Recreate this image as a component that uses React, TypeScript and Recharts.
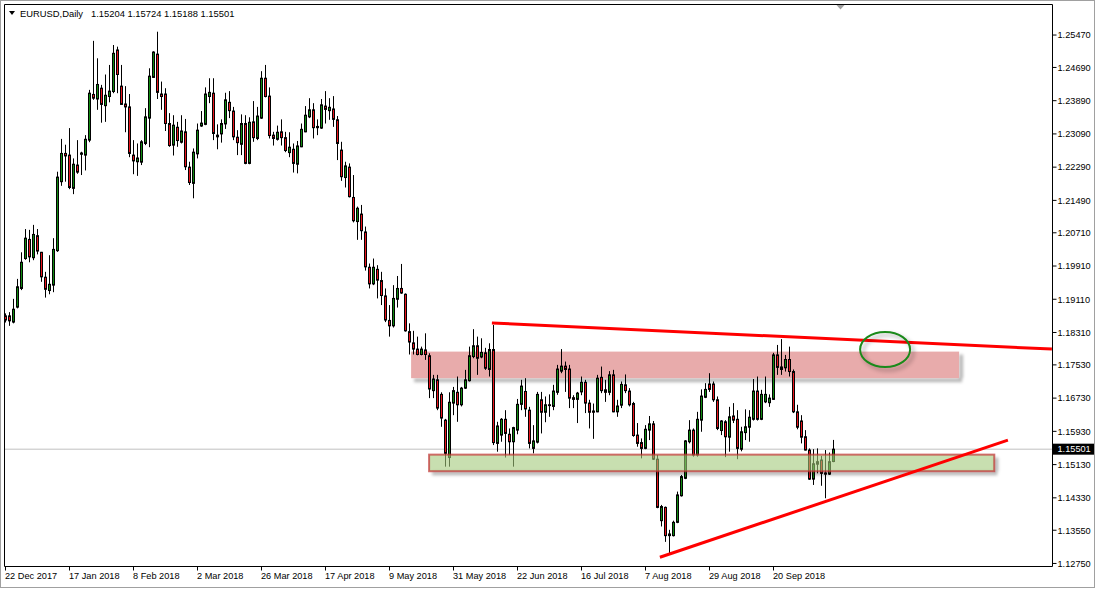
import React from "react";
import {
  ComposedChart,
  Bar,
  XAxis,
  YAxis,
  ReferenceLine,
  ReferenceArea,
  ReferenceDot,
} from "recharts";

// ---- daily EURUSD candles (22 Dec 2017 .. 11 Oct 2018), one per trading day ----
const opens = [
  1.1871, 1.1871, 1.1856, 1.1892, 1.1937, 1.2009, 1.2055, 1.2011, 1.2064, 1.2024,
  1.1964, 1.1932, 1.1945, 1.2028, 1.2194, 1.2262, 1.2258, 1.2178, 1.2234, 1.226,
  1.2258, 1.2294, 1.2404, 1.2393, 1.2419, 1.2377, 1.2399, 1.2411, 1.2511, 1.2424,
  1.2381, 1.2374, 1.2258, 1.2242, 1.2241, 1.2286, 1.2347, 1.2445, 1.2501, 1.2405,
  1.2405, 1.2334, 1.2282, 1.2325, 1.2289, 1.2314, 1.2229, 1.219, 1.2261, 1.2328,
  1.2332, 1.2399, 1.2407, 1.2306, 1.2309, 1.2333, 1.2385, 1.2364, 1.2301, 1.2284,
  1.2334, 1.2238, 1.2338, 1.2298, 1.2347, 1.2443, 1.24, 1.2306, 1.2296, 1.2314,
  1.23, 1.2264, 1.2272, 1.2236, 1.2278, 1.2314, 1.235, 1.2367, 1.2324, 1.2323,
  1.2376, 1.2365, 1.2369, 1.2343, 1.227, 1.2204, 1.2229, 1.2156, 1.2098, 1.2116,
  1.2073, 1.1988, 1.1948, 1.1983, 1.1956, 1.1919, 1.186, 1.1847, 1.1911, 1.1937,
  1.1923, 1.1833, 1.1806, 1.1791, 1.1778, 1.1789, 1.1775, 1.1691, 1.1717, 1.1682,
  1.162, 1.153, 1.1661, 1.1687, 1.1657, 1.1697, 1.1715, 1.1773, 1.1799, 1.1772,
  1.1782, 1.1742, 1.179, 1.1564, 1.1584, 1.1622, 1.1586, 1.1568, 1.1596, 1.1658,
  1.1689, 1.1644, 1.1552, 1.1567, 1.1669, 1.1639, 1.1657, 1.1653, 1.1687, 1.1738,
  1.175, 1.1743, 1.1674, 1.167, 1.1688, 1.1711, 1.1661, 1.1642, 1.164, 1.1723,
  1.1693, 1.1687, 1.1729, 1.164, 1.1656, 1.1705, 1.169, 1.166, 1.1584, 1.1566,
  1.1552, 1.1596, 1.1611, 1.1526, 1.1378, 1.141, 1.1342, 1.1342, 1.1374, 1.1438,
  1.148, 1.1568, 1.1596, 1.1536, 1.162, 1.1675, 1.1707, 1.1707, 1.1669, 1.1595,
  1.1616, 1.1579, 1.163, 1.1622, 1.155, 1.159, 1.1603, 1.1622, 1.169, 1.1622,
  1.1664, 1.1662, 1.167, 1.1777, 1.1748, 1.1746, 1.1766, 1.1737, 1.164, 1.1618,
  1.158, 1.1548, 1.1478, 1.1514, 1.1524, 1.1493, 1.149, 1.15204,
];
const highs = [
  1.1877, 1.188, 1.1912, 1.196, 1.2024, 1.208, 1.2078, 1.209, 1.208, 1.2025,
  1.1977, 1.2017, 1.2058, 1.2218, 1.2297, 1.2283, 1.2323, 1.225, 1.2294, 1.2266,
  1.2306, 1.2415, 1.2533, 1.2491, 1.2427, 1.2452, 1.2475, 1.2523, 1.2519, 1.2475,
  1.2424, 1.2405, 1.2294, 1.2286, 1.2294, 1.2371, 1.2467, 1.2508, 1.2555, 1.2435,
  1.2419, 1.2359, 1.2354, 1.2338, 1.2354, 1.2345, 1.2242, 1.2274, 1.2334, 1.2364,
  1.2421, 1.2443, 1.2443, 1.2332, 1.2344, 1.2408, 1.2412, 1.2374, 1.2318, 1.2356,
  1.2354, 1.2349, 1.2388, 1.2374, 1.246, 1.2475, 1.2421, 1.2314, 1.2329, 1.2344,
  1.2314, 1.2313, 1.2286, 1.2292, 1.2334, 1.2376, 1.2395, 1.2383, 1.2344, 1.2393,
  1.2412, 1.2395, 1.24, 1.2352, 1.229, 1.2242, 1.2238, 1.221, 1.2134, 1.2138,
  1.2086, 1.1997, 1.2009, 1.1993, 1.1977, 1.1937, 1.1897, 1.1945, 1.1967, 1.1996,
  1.1925, 1.1853, 1.1835, 1.1821, 1.1797, 1.1829, 1.1781, 1.1729, 1.1729, 1.1687,
  1.1623, 1.1687, 1.17, 1.1725, 1.17, 1.1741, 1.1797, 1.1839, 1.1821, 1.1817,
  1.1794, 1.1805, 1.1849, 1.1616, 1.1625, 1.1644, 1.16, 1.1604, 1.1671, 1.1717,
  1.1721, 1.1652, 1.1608, 1.1688, 1.1688, 1.1677, 1.1682, 1.1705, 1.1753, 1.1791,
  1.1761, 1.1753, 1.168, 1.1688, 1.1725, 1.1717, 1.1669, 1.166, 1.1729, 1.1749,
  1.1717, 1.1738, 1.1741, 1.1669, 1.1713, 1.173, 1.1697, 1.1664, 1.1613, 1.1576,
  1.1608, 1.163, 1.1618, 1.1536, 1.1416, 1.1412, 1.1356, 1.1378, 1.1448, 1.1488,
  1.1572, 1.162, 1.16, 1.164, 1.1694, 1.1709, 1.1733, 1.1713, 1.1677, 1.162,
  1.162, 1.1652, 1.1661, 1.1644, 1.1604, 1.1646, 1.1644, 1.1719, 1.1725, 1.1693,
  1.1725, 1.1682, 1.1782, 1.1801, 1.1815, 1.1777, 1.1797, 1.1742, 1.1657, 1.1632,
  1.1596, 1.1552, 1.155, 1.1552, 1.1534, 1.1548, 1.1542, 1.15724,
];
const lows = [
  1.1855, 1.1847, 1.1853, 1.1889, 1.1933, 1.2006, 1.2, 1.2005, 1.2019, 1.1953,
  1.1915, 1.1923, 1.1928, 1.2025, 1.2184, 1.2194, 1.2176, 1.2164, 1.2213, 1.221,
  1.2221, 1.2289, 1.2391, 1.2367, 1.2336, 1.2338, 1.2385, 1.2407, 1.2407, 1.2379,
  1.2313, 1.2253, 1.2212, 1.2208, 1.2234, 1.2282, 1.2277, 1.2444, 1.2393, 1.2367,
  1.2316, 1.2278, 1.2257, 1.2278, 1.2286, 1.2222, 1.2186, 1.2154, 1.225, 1.2326,
  1.233, 1.2383, 1.2294, 1.2272, 1.2288, 1.2321, 1.2347, 1.2294, 1.2258, 1.2258,
  1.2236, 1.2236, 1.229, 1.2294, 1.2345, 1.2397, 1.2298, 1.2281, 1.2293, 1.2281,
  1.2265, 1.2253, 1.2216, 1.2214, 1.2277, 1.2313, 1.2347, 1.2298, 1.2306, 1.2321,
  1.2334, 1.2343, 1.2326, 1.2246, 1.2196, 1.218, 1.2156, 1.2096, 1.2054, 1.2054,
  1.198, 1.1937, 1.1945, 1.1913, 1.1897, 1.1856, 1.1821, 1.1843, 1.1891, 1.1924,
  1.1833, 1.1778, 1.1778, 1.1776, 1.1776, 1.1765, 1.1673, 1.1673, 1.1644, 1.1604,
  1.1508, 1.1508, 1.1632, 1.1616, 1.1653, 1.1695, 1.1713, 1.1769, 1.1729, 1.1769,
  1.1741, 1.1725, 1.156, 1.1544, 1.1568, 1.153, 1.1536, 1.1508, 1.1586, 1.1644,
  1.1628, 1.1552, 1.154, 1.1564, 1.1588, 1.1615, 1.1628, 1.1644, 1.1681, 1.1733,
  1.1688, 1.1649, 1.1649, 1.1613, 1.168, 1.1637, 1.16, 1.1575, 1.1639, 1.1685,
  1.1664, 1.168, 1.1639, 1.1628, 1.1649, 1.1685, 1.1653, 1.158, 1.1556, 1.1528,
  1.155, 1.1572, 1.1524, 1.1408, 1.1364, 1.1327, 1.13, 1.134, 1.1372, 1.1436,
  1.1478, 1.1564, 1.1532, 1.1532, 1.1592, 1.1673, 1.1688, 1.1664, 1.1596, 1.1584,
  1.1531, 1.1544, 1.1613, 1.1526, 1.1545, 1.1572, 1.1568, 1.1619, 1.1619, 1.162,
  1.1661, 1.1652, 1.1669, 1.1729, 1.1729, 1.1737, 1.1725, 1.1637, 1.1598, 1.1564,
  1.1547, 1.1476, 1.1464, 1.1492, 1.1462, 1.1432, 1.1488, 1.15188,
];
const closes = [
  1.1861, 1.1859, 1.1887, 1.1941, 1.2, 1.2058, 1.2013, 1.2067, 1.2027, 1.1965,
  1.1935, 1.1947, 1.2031, 1.2205, 1.2262, 1.2256, 1.218, 1.2236, 1.2217, 1.2263,
  1.2296, 1.2407, 1.2395, 1.2428, 1.238, 1.2402, 1.2412, 1.2503, 1.2452, 1.238,
  1.2374, 1.2262, 1.2244, 1.2251, 1.229, 1.235, 1.2448, 1.2506, 1.2409, 1.2399,
  1.2334, 1.2281, 1.233, 1.2293, 1.2316, 1.223, 1.2192, 1.2265, 1.2318, 1.2335,
  1.2405, 1.2409, 1.231, 1.2302, 1.2334, 1.2391, 1.2365, 1.2302, 1.2288, 1.2334,
  1.2238, 1.2337, 1.23, 1.2352, 1.2443, 1.2399, 1.2305, 1.2298, 1.2313, 1.23,
  1.2269, 1.2277, 1.2238, 1.228, 1.232, 1.2354, 1.2367, 1.2324, 1.2327, 1.2379,
  1.2368, 1.2373, 1.2344, 1.2286, 1.2206, 1.2232, 1.2158, 1.21, 1.213, 1.2076,
  1.1989, 1.1948, 1.1988, 1.1957, 1.192, 1.1861, 1.1847, 1.1913, 1.1937, 1.1926,
  1.1835, 1.1808, 1.1791, 1.1778, 1.1791, 1.1778, 1.1695, 1.1719, 1.1649, 1.1625,
  1.154, 1.1663, 1.1691, 1.1657, 1.1697, 1.1717, 1.1775, 1.1799, 1.1769, 1.1783,
  1.1745, 1.179, 1.1566, 1.1606, 1.1622, 1.1588, 1.1568, 1.1602, 1.1658, 1.1702,
  1.1647, 1.1564, 1.157, 1.1682, 1.1639, 1.1657, 1.1655, 1.169, 1.1743, 1.175,
  1.1742, 1.1673, 1.167, 1.1685, 1.1711, 1.1661, 1.1639, 1.1639, 1.1721, 1.1691,
  1.1687, 1.1729, 1.164, 1.1654, 1.1706, 1.1691, 1.1657, 1.1583, 1.1564, 1.1552,
  1.1598, 1.1611, 1.1526, 1.141, 1.1412, 1.1342, 1.1346, 1.1374, 1.144, 1.1484,
  1.157, 1.1596, 1.1536, 1.1622, 1.1678, 1.1694, 1.1694, 1.1669, 1.16, 1.1618,
  1.158, 1.1628, 1.162, 1.1552, 1.1592, 1.1604, 1.1627, 1.169, 1.1622, 1.1682,
  1.1682, 1.1673, 1.1777, 1.1747, 1.1742, 1.1766, 1.1737, 1.164, 1.1603, 1.1579,
  1.1548, 1.1478, 1.1515, 1.152, 1.1492, 1.149, 1.152, 1.15501,
];

// ---- axis labels ----
const dateTickIndex = [0, 16, 32, 48, 64, 80, 96, 112, 128, 144, 160, 176, 192];
const dateTickLabels = [
  "22 Dec 2017", "17 Jan 2018", "8 Feb 2018", "2 Mar 2018", "26 Mar 2018",
  "17 Apr 2018", "9 May 2018", "31 May 2018", "22 Jun 2018", "16 Jul 2018",
  "7 Aug 2018", "29 Aug 2018", "20 Sep 2018",
];
const priceTicks = [
  1.1275, 1.1355, 1.1433, 1.1513, 1.1593, 1.1673, 1.1753, 1.1831, 1.1911,
  1.1991, 1.2071, 1.2149, 1.2229, 1.2309, 1.2389, 1.2469, 1.2547,
];
const lastPrice = 1.15501;
const symbolTitle = "EURUSD,Daily";
const headerOhlc = [1.15204, 1.15724, 1.15188, 1.15501];

// ---- drawn objects (index / price coordinates) ----
const resistanceLine = [{ x: 121.6, y: 1.1854 }, { x: 261.6, y: 1.1791 }];
const supportLine = [{ x: 163.6, y: 1.129 }, { x: 250.6, y: 1.1572 }];
const resistanceZone = { x1: 101.4, x2: 238.4, y1: 1.1721, y2: 1.1785 };
const supportZone = { x1: 105.9, x2: 247.2, y1: 1.1497, y2: 1.1537 };
const circleMark = { x: 219.9, y: 1.179 };

const X_DOMAIN: [number, number] = [-0.25, 261.75];
const Y_DOMAIN: [number, number] = [1.12677, 1.26205];

const FONT = "'Liberation Sans', Arial, sans-serif";
const UP = "#108a10";
const DOWN = "#e8141c";

const data = opens.map((o, i) => ({
  i,
  open: o,
  high: highs[i],
  low: lows[i],
  close: closes[i],
  range: [lows[i], highs[i]],
}));

function Candle(props: any) {
  const { x, y, width, height } = props;
  const p = props.payload ?? props;
  const { open, high, low, close } = p;
  if (x == null || y == null) return null;
  const top = Math.min(y, y + height);
  const bottom = Math.max(y, y + height);
  const span = high - low || 1e-9;
  const toPx = (v: number) => top + ((high - v) / span) * (bottom - top);
  const cx = Math.round(x + width / 2 - 0.5) + 0.5;
  const bTop = toPx(Math.max(open, close));
  const bBot = toPx(Math.min(open, close));
  const up = close > open;
  return (
    <g>
      <line x1={cx} x2={cx} y1={top} y2={bottom} stroke="#000" strokeWidth={1} />
      <rect
        x={cx - 1}
        y={bTop}
        width={2}
        height={Math.max(bBot - bTop, 0.6)}
        fill={up ? UP : DOWN}
        stroke="#000"
        strokeWidth={1}
      />
    </g>
  );
}

function PriceTick(props: any) {
  const { x, y, payload } = props;
  const v = payload.value as number;
  const isLast = Math.abs(v - lastPrice) < 1e-9;
  return (
    <g>
      {isLast && <rect x={x - 4.5} y={y - 5.5} width={41} height={11} fill="#000" />}
      <text
        x={x}
        y={y}
        dy={3.3}
        textAnchor="start"
        fontSize={9.2}
        fontFamily={FONT}
        fill={isLast ? "#fff" : "#000"}
      >
        {v.toFixed(5)}
      </text>
    </g>
  );
}

function DateTick(props: any) {
  const { x, y, payload } = props;
  const idx = dateTickIndex.indexOf(payload.value);
  return (
    <text x={x - 0.5} y={y + 6} textAnchor="start" fontSize={9.2} fontFamily={FONT} fill="#000">
      {idx >= 0 ? dateTickLabels[idx] : ""}
    </text>
  );
}

// soft shadow strips below and to the right of a drawn box
function BoxShadow({ x, y, width, height }: any) {
  return (
    <g style={{ filter: "blur(1.8px)" }}>
      <rect x={x + 3} y={y + height} width={width} height={4} fill="rgba(0,0,0,0.28)" />
      <rect x={x + width} y={y + 3} width={4} height={height - 3} fill="rgba(0,0,0,0.28)" />
    </g>
  );
}

export default function App() {
  return (
    <div style={{ position: "absolute", left: 0, top: 0, width: 1096, height: 589, background: "#fff" }}>
      <ComposedChart
        width={1096}
        height={589}
        data={data}
        margin={{ top: 4.5, left: 4.5, right: 0, bottom: 0 }}
      >
        <XAxis
          type="number"
          dataKey="i"
          domain={X_DOMAIN}
          allowDataOverflow
          ticks={dateTickIndex}
          interval={0}
          height={22.5}
          tickSize={4}
          tickMargin={2}
          tickLine={{ stroke: "#000" }}
          axisLine={{ stroke: "#000" }}
          tick={<DateTick />}
        />
        <YAxis
          type="number"
          orientation="right"
          domain={Y_DOMAIN}
          allowDataOverflow
          ticks={[...priceTicks, lastPrice]}
          interval={0}
          width={43.5}
          tickSize={4}
          tickMargin={1}
          tickLine={{ stroke: "#000" }}
          axisLine={{ stroke: "#000" }}
          tick={<PriceTick />}
        />
        <ReferenceLine y={Y_DOMAIN[1]} stroke="#000" strokeWidth={1} />
        <ReferenceLine x={X_DOMAIN[0]} stroke="#000" strokeWidth={1} />
        <ReferenceArea
          x1={resistanceZone.x1}
          x2={resistanceZone.x2}
          y1={resistanceZone.y1}
          y2={resistanceZone.y2}
          zIndex={50}
          shape={(p: any) => (
            <g>
              <BoxShadow {...p} />
              <rect x={p.x} y={p.y} width={p.width} height={p.height} fill="#e8abab" />
            </g>
          )}
        />
        <ReferenceLine y={lastPrice} stroke="#c0c0c0" strokeWidth={1} zIndex={60} />
        <Bar dataKey="range" barSize={3} isAnimationActive={false} shape={(p: any) => <Candle {...p} />} />
        <ReferenceArea
          x1={supportZone.x1}
          x2={supportZone.x2}
          y1={supportZone.y1}
          y2={supportZone.y2}
          zIndex={1500}
          shape={(p: any) => (
            <g>
              <BoxShadow {...p} />
              <rect
                x={p.x}
                y={p.y}
                width={p.width}
                height={p.height}
                fill="#a3c97c"
                fillOpacity={0.6}
                stroke="#c03030"
                strokeOpacity={0.7}
                strokeWidth={2}
              />
            </g>
          )}
        />
        <ReferenceLine segment={resistanceLine} stroke="#ff0000" strokeWidth={3} zIndex={1600} />
        <ReferenceLine segment={supportLine} stroke="#ff0000" strokeWidth={3} zIndex={1600} />
        <ReferenceDot
          x={circleMark.x}
          y={circleMark.y}
          r={20}
          zIndex={1700}
          shape={(p: any) => (
            <ellipse
              cx={p.cx}
              cy={p.cy}
              rx={25}
              ry={17.5}
              fill="none"
              stroke="#1a8a1a"
              strokeWidth={2}
              style={{ filter: "drop-shadow(3px 3px 2px rgba(0,0,0,0.35))" }}
            />
          )}
        />
      </ComposedChart>
      <svg
        width={1096}
        height={589}
        style={{ position: "absolute", left: 0, top: 0, pointerEvents: "none" }}
      >
        <rect x={0.5} y={0.5} width={1094} height={587} fill="none" stroke="#a0a0a0" strokeWidth={1} />
        <polygon points="9,11 15,11 12,15" fill="#000" />
        <text x={20} y={16.5} fontSize={9.4} fontFamily={FONT} fill="#000">
          {symbolTitle}
        </text>
        <text x={91} y={16.5} fontSize={9.4} fontFamily={FONT} fill="#000">
          {headerOhlc.map((v) => v.toFixed(5)).join(" ")}
        </text>
        <polygon points="836.5,5 844.5,5 840.5,9.5" fill="#a0a0a0" />
      </svg>
    </div>
  );
}
